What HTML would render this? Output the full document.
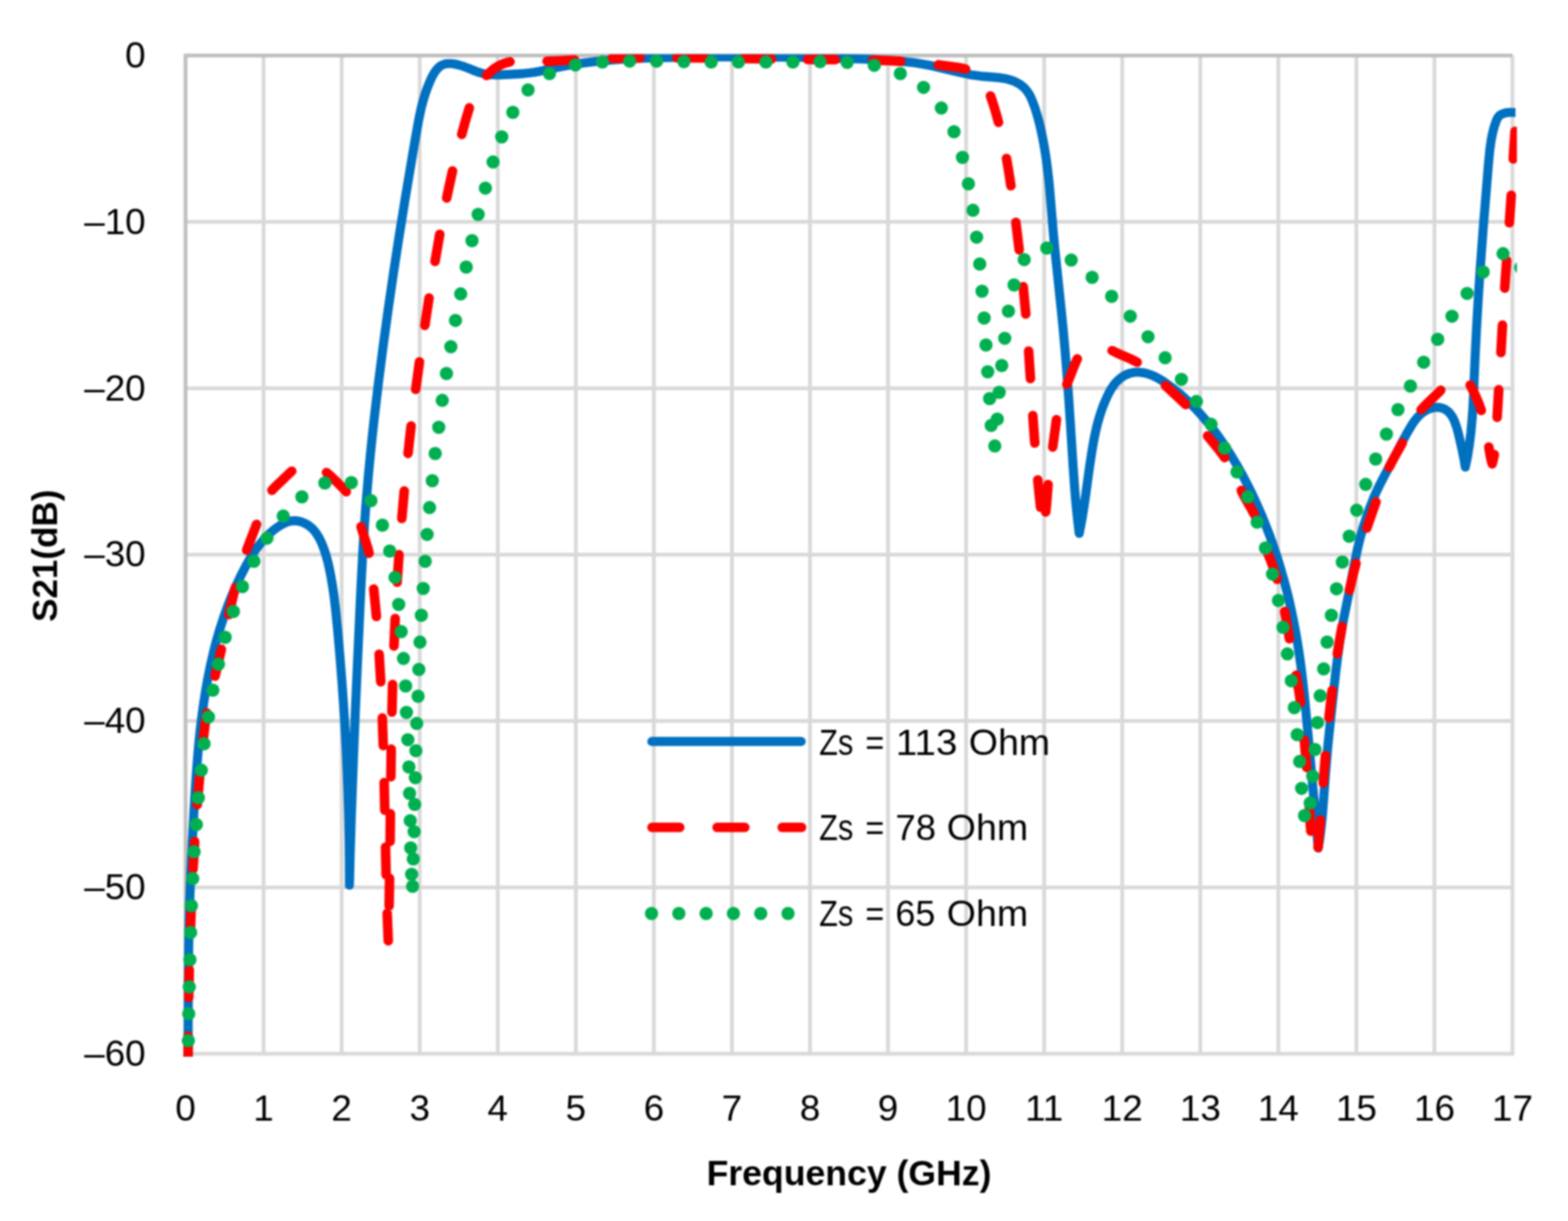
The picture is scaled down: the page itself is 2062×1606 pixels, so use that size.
<!DOCTYPE html>
<html lang="en">
<head>
<meta charset="utf-8">
<title>S21 versus frequency</title>
<style>
html,body{margin:0;padding:0;background:#fff;}
body{width:2062px;height:1606px;overflow:hidden;}
svg{display:block;filter:blur(0.8px);}
text{font-family:"Liberation Sans",sans-serif;fill:#000;}
.tick{font-size:48.5px;}
.ttl{font-size:46.2px;font-weight:bold;}
.grid line{stroke:#d9d9d9;stroke-width:5;}
.axis line{stroke:#bfbfbf;stroke-width:5;}
.s{fill:none;stroke-linecap:round;stroke-linejoin:round;}
</style>
</head>
<body>
<svg xmlns="http://www.w3.org/2000/svg" width="2062" height="1606" viewBox="0 0 2062 1606">
<rect width="2062" height="1606" fill="#fff"/>
<defs><clipPath id="cb"><rect x="236" y="71.5" width="1756.9" height="1318.3"/></clipPath><clipPath id="cr"><rect x="236" y="71.5" width="1758.8" height="1318.3"/></clipPath></defs>
<g class="grid">
<line x1="346.65" y1="73.0" x2="346.65" y2="1388.3"/>
<line x1="449.29" y1="73.0" x2="449.29" y2="1388.3"/>
<line x1="551.94" y1="73.0" x2="551.94" y2="1388.3"/>
<line x1="654.59" y1="73.0" x2="654.59" y2="1388.3"/>
<line x1="757.24" y1="73.0" x2="757.24" y2="1388.3"/>
<line x1="859.88" y1="73.0" x2="859.88" y2="1388.3"/>
<line x1="962.53" y1="73.0" x2="962.53" y2="1388.3"/>
<line x1="1065.18" y1="73.0" x2="1065.18" y2="1388.3"/>
<line x1="1167.82" y1="73.0" x2="1167.82" y2="1388.3"/>
<line x1="1270.47" y1="73.0" x2="1270.47" y2="1388.3"/>
<line x1="1373.12" y1="73.0" x2="1373.12" y2="1388.3"/>
<line x1="1475.76" y1="73.0" x2="1475.76" y2="1388.3"/>
<line x1="1578.41" y1="73.0" x2="1578.41" y2="1388.3"/>
<line x1="1681.06" y1="73.0" x2="1681.06" y2="1388.3"/>
<line x1="1783.71" y1="73.0" x2="1783.71" y2="1388.3"/>
<line x1="1886.35" y1="73.0" x2="1886.35" y2="1388.3"/>
<line x1="1989.00" y1="73.0" x2="1989.00" y2="1388.3"/>
<line x1="244.0" y1="291.83" x2="1991.3" y2="291.83"/>
<line x1="244.0" y1="510.67" x2="1991.3" y2="510.67"/>
<line x1="244.0" y1="729.50" x2="1991.3" y2="729.50"/>
<line x1="244.0" y1="948.33" x2="1991.3" y2="948.33"/>
<line x1="244.0" y1="1167.17" x2="1991.3" y2="1167.17"/>
<line x1="244.0" y1="1386.00" x2="1991.3" y2="1386.00"/>
</g>
<g class="axis">
<line x1="241.7" y1="73.0" x2="1989.0" y2="73.0"/>
<line x1="244.0" y1="73.0" x2="244.0" y2="1388.3"/>
</g>
<path class="s" clip-path="url(#cb)" stroke="#0070c0" stroke-width="11.9" d="M247.3 1395.0L247.7 1289.9L248.2 1241.7L248.7 1217.7L249.3 1193.7L250.1 1168.3L251.2 1141.4L252.9 1106.9L254.9 1069.5L256.9 1036.4L258.8 1009.4L260.8 985.3L262.8 964.3L265.1 944.9L267.7 925.6L270.5 907.8L273.7 890.1L277.0 874.0L280.7 858.0L284.8 842.1L289.0 827.8L293.6 813.6L298.6 799.5L304.0 785.5L309.9 771.6L316.3 758.0L323.3 744.4L329.3 733.9L335.0 724.9L338.5 720.0L341.3 716.4L345.1 711.7L348.1 708.3L352.3 704.0L355.6 700.9L359.0 697.9L362.6 695.1L366.3 692.5L368.8 690.9L372.7 688.7L375.4 687.5L378.1 686.5L380.8 685.7L383.6 685.2L386.4 685.0L389.2 685.0L392.0 685.4L394.8 686.0L397.6 686.9L400.3 688.0L402.9 689.4L405.4 690.9L409.0 693.7L411.2 695.7L413.2 697.9L415.1 700.3L417.7 704.1L419.2 706.7L421.4 710.8L423.3 715.1L425.0 719.4L426.6 723.8L428.5 729.6L430.1 735.3L431.6 741.1L434.4 754.2L437.0 768.9L439.2 783.7L441.3 801.6L444.0 828.5L447.0 862.9L449.6 895.9L451.8 927.3L453.7 957.3L455.3 987.3L456.6 1017.3L457.7 1045.8L458.5 1075.8L459.1 1105.8L459.4 1135.9L459.5 1164.4L459.5 1164.4L460.5 1123.9L461.8 1080.4L463.4 1035.4L465.2 987.4L467.5 930.5L470.5 863.0L473.9 788.1L476.1 744.6L477.6 717.7L479.2 692.2L480.9 668.3L482.7 645.9L484.6 623.4L486.9 599.5L489.5 574.2L492.3 548.8L497.6 504.1L503.9 455.0L510.4 407.5L517.3 360.0L524.6 312.5L532.7 262.1L543.4 198.5L548.3 170.5L550.7 157.3L553.8 142.6L555.7 135.3L557.3 129.5L559.1 123.7L561.1 117.9L563.3 112.1L565.7 106.4L567.6 102.1L569.8 98.0L572.2 94.2L573.9 91.9L575.8 89.8L577.8 87.9L579.9 86.4L582.3 85.2L584.7 84.3L586.0 84.0L588.7 83.6L593.0 83.6L597.4 84.1L602.0 85.1L608.0 86.9L613.9 89.0L626.7 94.1L630.9 95.5L635.2 96.7L639.5 97.6L643.9 98.2L648.3 98.4L654.3 98.5L661.8 98.2L681.4 97.2L688.9 96.7L696.4 95.9L702.3 95.1L709.7 93.8L731.7 89.0L743.5 86.7L755.3 84.6L767.2 82.9L783.5 80.8L799.9 79.2L817.9 77.9L835.8 76.9L861.3 76.0L892.9 75.3L931.9 74.9L970.9 74.8L1009.9 74.9L1050.4 75.4L1090.9 76.2L1123.9 77.2L1152.4 78.4L1174.9 79.8L1185.3 80.7L1194.3 81.6L1203.2 82.7L1210.6 83.8L1219.4 85.4L1228.2 87.2L1261.8 95.2L1269.1 96.8L1276.5 98.3L1283.9 99.4L1289.9 100.2L1312.5 102.0L1318.5 102.8L1322.9 103.6L1328.7 105.2L1334.3 107.2L1336.9 108.5L1339.5 109.9L1343.1 112.3L1346.5 115.1L1348.5 117.1L1351.2 120.6L1353.6 124.3L1355.7 128.3L1357.5 132.5L1359.7 138.3L1361.7 144.1L1363.9 151.4L1366.3 160.0L1368.4 168.7L1370.3 177.5L1372.3 187.7L1374.1 198.1L1375.7 208.4L1377.1 218.9L1378.9 233.8L1380.5 250.2L1385.1 305.5L1386.9 324.9L1395.5 407.0L1397.9 430.9L1400.2 456.3L1402.9 489.2L1405.4 523.6L1407.3 552.1L1411.1 612.0L1413.1 640.4L1414.4 656.9L1416.0 673.3L1417.6 688.2L1419.2 701.6L1419.2 701.6L1422.1 686.9L1425.1 669.1L1427.5 652.7L1433.0 612.5L1436.2 591.8L1438.0 581.5L1440.0 571.2L1442.0 562.4L1443.8 555.2L1446.8 545.1L1450.2 535.1L1454.3 525.2L1458.3 516.8L1460.5 512.8L1462.1 510.2L1465.6 505.3L1467.5 503.0L1469.6 500.8L1471.8 498.8L1474.0 497.0L1477.6 494.6L1480.1 493.2L1482.7 492.1L1485.4 491.1L1488.2 490.4L1491.0 489.9L1493.8 489.6L1496.7 489.6L1499.6 489.8L1502.5 490.1L1505.5 490.7L1509.8 491.8L1512.7 492.8L1516.9 494.5L1519.7 495.8L1523.7 497.9L1527.7 500.3L1532.8 503.7L1542.7 510.9L1552.1 518.5L1561.0 526.5L1565.3 530.7L1570.6 536.0L1579.7 545.8L1588.5 556.0L1596.8 566.6L1603.9 576.3L1611.5 587.4L1618.8 598.8L1625.8 610.5L1633.2 623.6L1640.2 636.9L1646.9 650.4L1653.2 664.0L1659.2 677.8L1664.8 691.7L1670.2 705.7L1675.2 719.9L1679.9 734.1L1684.7 749.9L1688.8 764.3L1693.0 780.3L1695.8 792.0L1698.7 805.2L1701.4 818.4L1703.9 831.7L1706.2 845.0L1708.3 858.4L1710.4 873.3L1712.3 888.2L1715.0 912.1L1717.8 940.5L1729.8 1072.1L1733.5 1115.5L1733.5 1115.5L1735.0 1106.6L1736.2 1097.7L1737.5 1087.3L1738.6 1076.8L1740.1 1058.9L1742.9 1019.9L1744.4 1001.9L1746.5 977.9L1749.3 951.0L1754.1 906.2L1756.6 883.8L1759.2 862.9L1761.9 843.5L1764.3 828.7L1766.7 815.4L1774.7 775.6L1781.7 738.7L1785.1 722.5L1789.0 706.4L1793.1 692.0L1797.7 677.7L1802.4 665.0L1805.7 656.6L1808.7 649.7L1811.9 642.9L1815.9 634.7L1820.7 625.4L1832.1 604.2L1845.8 577.8L1850.9 568.6L1854.8 561.9L1858.1 556.7L1860.7 553.0L1863.6 549.5L1866.6 546.2L1870.0 543.3L1872.4 541.5L1876.3 539.3L1879.0 538.0L1883.3 536.6L1887.8 535.9L1890.7 535.8L1892.1 535.9L1893.5 536.1L1896.3 536.7L1897.6 537.2L1900.1 538.3L1901.3 539.0L1903.6 540.7L1904.7 541.6L1906.7 543.7L1909.3 547.2L1911.5 551.2L1913.3 555.5L1915.4 561.4L1917.5 568.9L1920.0 579.3L1923.2 593.7L1925.2 603.9L1926.9 614.4L1926.9 614.4L1928.5 607.1L1929.9 599.7L1932.3 584.9L1934.3 568.6L1935.8 552.2L1936.8 538.7L1937.5 525.2L1939.9 468.0L1941.8 430.5L1943.8 396.0L1946.1 360.0L1950.6 298.6L1957.6 213.2L1959.2 196.7L1960.9 184.8L1962.0 178.9L1963.3 173.1L1964.8 167.3L1966.7 161.6L1968.3 157.4L1969.6 154.8L1971.3 152.6L1972.4 151.7L1973.5 150.8L1976.1 149.6L1979.0 148.7L1982.1 148.2L1985.2 147.9L1988.4 147.9L2000.8 148.2L2005.0 147.9"/>
<path class="s" clip-path="url(#cr)" stroke="#ff0000" stroke-width="12.6" d="M247.3 1395.0L247.5 1362.8M248.2 1312.1L248.9 1275.8M250.3 1227.1L251.6 1190.9M253.9 1143.2L256.0 1107.0M259.4 1058.4L262.5 1022.2M267.2 973.7L269.5 953.7L271.9 937.7M282.8 889.3L286.8 872.7L291.1 854.0M301.1 808.3L305.3 789.7L309.4 773.0M324.4 723.6L337.3 689.7M357.6 644.9L362.4 639.9L370.6 632.2L379.3 623.7L383.7 619.7M429.4 621.5L436.2 627.5L443.5 634.5L450.5 641.5L455.4 646.8M474.8 692.8L478.4 704.4L483.3 719.7L485.4 727.6M491.5 774.8L493.3 792.8L495.0 810.9M498.6 860.5L500.7 896.7M502.8 944.4L504.0 980.7M505.2 1029.4L506.0 1065.7M507.0 1114.4L507.8 1150.7M509.2 1201.4L510.6 1237.5M511.7 1191.6L512.3 1155.4M513.0 1106.7L513.4 1070.4M514.0 1021.7L514.5 985.4M515.4 936.7L516.3 900.4M518.1 849.7L519.7 813.5M522.3 765.8L524.7 729.6M528.4 682.0L531.6 645.9M536.6 596.4L540.6 560.3M546.7 512.1L551.6 476.1M558.7 427.9L564.2 392.1M572.1 343.9L578.3 308.2M587.4 260.4L591.2 242.6L595.1 224.9M607.2 176.7L613.1 155.4L617.2 141.9M639.9 99.3L643.5 95.7L647.3 92.4L651.3 89.4L654.7 87.3L659.1 85.0L662.8 83.5L666.5 82.3L670.7 81.3M719.4 80.6L733.5 80.0L755.6 78.8M805.2 76.8L841.5 76.1M890.2 76.0L926.5 76.3M978.2 77.0L1014.5 77.6M1062.2 78.2L1098.5 78.4M1148.2 79.1L1167.3 79.8L1184.5 80.6M1234.0 85.3L1258.0 88.5L1264.0 89.5L1269.8 90.8M1302.5 126.2L1305.2 133.8L1307.9 142.5L1310.4 151.2L1313.1 160.9M1323.6 208.5L1326.5 225.4L1329.4 244.3M1335.9 292.5L1340.3 328.6M1345.6 377.0L1349.0 413.1M1352.7 461.7L1355.1 497.9M1358.2 546.5L1360.8 582.7M1364.7 631.2L1366.5 649.3L1368.4 667.3M1375.2 673.5L1376.2 663.4L1378.3 637.3M1384.4 588.0L1387.0 569.0L1389.3 552.0M1402.9 505.5L1406.5 497.0L1413.1 480.3L1416.7 472.0M1462.5 461.2L1469.7 464.7L1487.3 472.3L1491.7 474.5L1495.4 476.5M1532.7 507.2L1541.5 515.5L1553.3 526.4L1559.1 532.1M1588.1 573.4L1591.9 578.2L1603.3 592.1L1607.0 596.9L1610.5 601.9M1632.4 645.1L1634.5 649.8L1636.8 654.2L1646.3 670.7L1649.7 677.0M1667.2 727.8L1671.0 737.2L1673.8 744.7L1676.7 753.2L1679.4 761.9M1689.4 804.3L1692.0 818.3L1695.7 840.1M1704.4 888.1L1707.9 907.9L1710.3 923.9M1715.2 973.3L1718.3 1009.5M1721.7 1057.1L1722.7 1079.2L1723.3 1087.2L1723.9 1093.3M1733.4 1114.6L1736.3 1078.5M1740.1 1029.8L1743.0 993.7M1747.6 944.1L1749.6 926.1L1751.8 908.1M1758.7 859.8L1761.7 841.9L1764.9 824.0M1774.6 776.3L1779.0 757.6L1783.2 741.0M1797.5 694.5L1809.5 660.2M1826.7 614.6L1831.8 604.8L1844.1 582.8M1868.8 538.8L1874.6 532.9L1888.7 519.3L1894.6 513.3M1933.4 506.6L1937.6 514.5L1941.4 522.8L1944.9 531.2L1948.0 539.8M1957.9 588.0L1958.9 594.4L1960.0 600.3L1961.0 605.2L1962.3 610.0M1962.3 610.0L1963.8 604.2L1965.1 598.0M1968.8 548.9L1970.9 512.6M1973.8 463.8L1975.8 427.6M1978.8 378.9L1981.3 342.7M1984.9 293.0L1987.4 256.7M1990.0 209.0L1992.3 172.8"/>
<path class="s" clip-path="url(#cr)" stroke="#00b050" stroke-width="17.5" d="M247.7 1368.7h0M248.2 1333.4h0M248.9 1298.1h0M249.7 1262.3h0M250.7 1226.5h0M251.7 1191.2h0M253.5 1155.6h0M255.2 1120.3h0M258.2 1084.5h0M260.8 1049.2h0M264.8 1013.1h0M268.3 978.3h0M274.1 943.0h0M279.9 907.7h0M287.3 873.6h0M296.1 838.3h0M306.9 804.3h0M318.8 771.5h0M333.9 738.2h0M351.1 707.9h0M372.5 678.7h0M397.0 653.5h0M427.2 635.3h0M462.0 634.8h0M487.8 658.5h0M502.9 690.8h0M512.5 724.8h0M519.5 759.4h0M524.3 795.0h0M527.6 830.8h0M530.6 866.1h0M533.4 902.2h0M534.5 937.0h0M536.3 972.9h0M537.7 1008.7h0M538.6 1043.5h0M539.5 1079.4h0M540.1 1115.2h0M541.3 1150.0h0M542.6 1165.7h0M543.5 1129.8h0M544.6 1093.9h0M545.3 1058.1h0M546.2 1022.9h0M546.9 987.4h0M548.0 951.6h0M549.8 915.7h0M550.8 880.5h0M552.3 844.6h0M554.1 809.3h0M556.6 774.0h0M559.1 738.2h0M561.7 702.9h0M564.9 667.6h0M568.5 632.3h0M572.3 596.5h0M577.0 562.0h0M581.6 526.6h0M587.1 491.3h0M592.9 456.0h0M599.0 421.4h0M605.8 386.6h0M613.1 351.3h0M620.7 316.5h0M628.8 282.0h0M638.3 247.4h0M648.4 213.1h0M659.8 180.0h0M674.4 147.7h0M694.4 118.2h0M722.6 96.7h0M756.7 85.4h0M792.2 81.6h0M828.0 80.4h0M863.4 80.4h0M899.4 81.1h0M935.2 81.6h0M971.1 81.6h0M1007.2 81.6h0M1042.7 81.6h0M1078.5 81.1h0M1114.1 82.1h0M1149.7 85.9h0M1184.0 96.7h0M1214.5 114.9h0M1237.9 142.1h0M1254.6 173.2h0M1265.7 207.0h0M1273.5 241.8h0M1279.5 276.6h0M1284.3 311.9h0M1288.4 347.2h0M1291.4 383.0h0M1294.2 418.3h0M1296.6 453.7h0M1298.9 489.0h0M1301.4 524.3h0M1303.4 559.6h0M1308.2 586.6h0M1311.5 551.3h0M1314.0 516.0h0M1317.3 480.7h0M1321.3 444.9h0M1326.1 409.3h0M1333.5 374.7h0M1346.9 341.4h0M1376.6 326.3h0M1408.7 342.1h0M1436.2 364.8h0M1461.9 389.8h0M1486.3 415.9h0M1509.7 442.9h0M1532.2 470.6h0M1553.6 498.9h0M1573.3 528.1h0M1592.7 558.1h0M1610.3 589.2h0M1626.7 620.7h0M1640.9 653.5h0M1653.2 686.8h0M1664.1 720.8h0M1673.4 755.1h0M1681.2 789.7h0M1687.2 825.1h0M1693.0 860.1h0M1698.1 895.4h0M1702.1 930.7h0M1705.9 966.3h0M1709.1 1001.6h0M1711.7 1036.9h0M1715.5 1072.7h0M1723.0 1056.3h0M1726.3 1021.0h0M1729.3 985.7h0M1732.6 950.4h0M1736.1 915.1h0M1740.7 879.8h0M1745.2 844.5h0M1750.8 809.2h0M1757.6 774.4h0M1765.2 739.2h0M1774.3 705.2h0M1784.1 671.1h0M1796.0 637.1h0M1809.1 603.8h0M1823.2 571.0h0M1838.4 538.7h0M1854.8 507.7h0M1872.2 476.4h0M1890.6 446.2h0M1909.5 415.9h0M1929.3 385.9h0M1950.5 357.8h0M1976.6 333.6h0M2000.0 352.0h0"/>
<path class="s" stroke="#0070c0" stroke-width="11.9" d="M857.2 975.2H1053.6"/>
<path class="s" stroke="#ff0000" stroke-width="12.6" stroke-dasharray="36.3 49.3" d="M857.5 1088.3H1054"/>
<path class="s" stroke="#00b050" stroke-width="17.5" stroke-dasharray="0 35.9" d="M856.8 1201.5H1054"/>
<text class="tick" y="992.9"><tspan x="1077.3" textLength="44.8" lengthAdjust="spacingAndGlyphs">Zs</tspan> <tspan x="1137.9" textLength="24.8" lengthAdjust="spacingAndGlyphs">=</tspan> <tspan x="1178.1" textLength="81.0" lengthAdjust="spacingAndGlyphs">113</tspan> <tspan x="1274.0" textLength="107" lengthAdjust="spacingAndGlyphs">Ohm</tspan></text>
<text class="tick" y="1105.4"><tspan x="1077.3" textLength="44.8" lengthAdjust="spacingAndGlyphs">Zs</tspan> <tspan x="1137.9" textLength="24.8" lengthAdjust="spacingAndGlyphs">=</tspan> <tspan x="1177.5" textLength="53.4" lengthAdjust="spacingAndGlyphs">78</tspan> <tspan x="1245.1" textLength="107" lengthAdjust="spacingAndGlyphs">Ohm</tspan></text>
<text class="tick" y="1217.9"><tspan x="1077.3" textLength="44.8" lengthAdjust="spacingAndGlyphs">Zs</tspan> <tspan x="1137.9" textLength="24.8" lengthAdjust="spacingAndGlyphs">=</tspan> <tspan x="1177.5" textLength="52.6" lengthAdjust="spacingAndGlyphs">65</tspan> <tspan x="1245.1" textLength="107" lengthAdjust="spacingAndGlyphs">Ohm</tspan></text>
<text class="tick" x="191.6" y="88.9" text-anchor="end">0</text>
<text class="tick" x="191.6" y="307.7" text-anchor="end">–10</text>
<text class="tick" x="191.6" y="526.6" text-anchor="end">–20</text>
<text class="tick" x="191.6" y="745.4" text-anchor="end">–30</text>
<text class="tick" x="191.6" y="964.2" text-anchor="end">–40</text>
<text class="tick" x="191.6" y="1183.1" text-anchor="end">–50</text>
<text class="tick" x="191.6" y="1401.9" text-anchor="end">–60</text>
<text class="tick" x="244.0" y="1473.7" text-anchor="middle">0</text>
<text class="tick" x="346.6" y="1473.7" text-anchor="middle">1</text>
<text class="tick" x="449.3" y="1473.7" text-anchor="middle">2</text>
<text class="tick" x="551.9" y="1473.7" text-anchor="middle">3</text>
<text class="tick" x="654.6" y="1473.7" text-anchor="middle">4</text>
<text class="tick" x="757.2" y="1473.7" text-anchor="middle">5</text>
<text class="tick" x="859.9" y="1473.7" text-anchor="middle">6</text>
<text class="tick" x="962.5" y="1473.7" text-anchor="middle">7</text>
<text class="tick" x="1065.2" y="1473.7" text-anchor="middle">8</text>
<text class="tick" x="1167.8" y="1473.7" text-anchor="middle">9</text>
<text class="tick" x="1270.5" y="1473.7" text-anchor="middle">10</text>
<text class="tick" x="1373.1" y="1473.7" text-anchor="middle">11</text>
<text class="tick" x="1475.8" y="1473.7" text-anchor="middle">12</text>
<text class="tick" x="1578.4" y="1473.7" text-anchor="middle">13</text>
<text class="tick" x="1681.1" y="1473.7" text-anchor="middle">14</text>
<text class="tick" x="1783.7" y="1473.7" text-anchor="middle">15</text>
<text class="tick" x="1886.4" y="1473.7" text-anchor="middle">16</text>
<text class="tick" x="1989.0" y="1473.7" text-anchor="middle">17</text>
<text class="ttl" x="1116.5" y="1559" text-anchor="middle" textLength="374.5" lengthAdjust="spacingAndGlyphs">Frequency (GHz)</text>
<text class="ttl" transform="translate(75.2 731) rotate(-90)" text-anchor="middle" textLength="174" lengthAdjust="spacingAndGlyphs">S21(dB)</text>
</svg>
</body>
</html>
